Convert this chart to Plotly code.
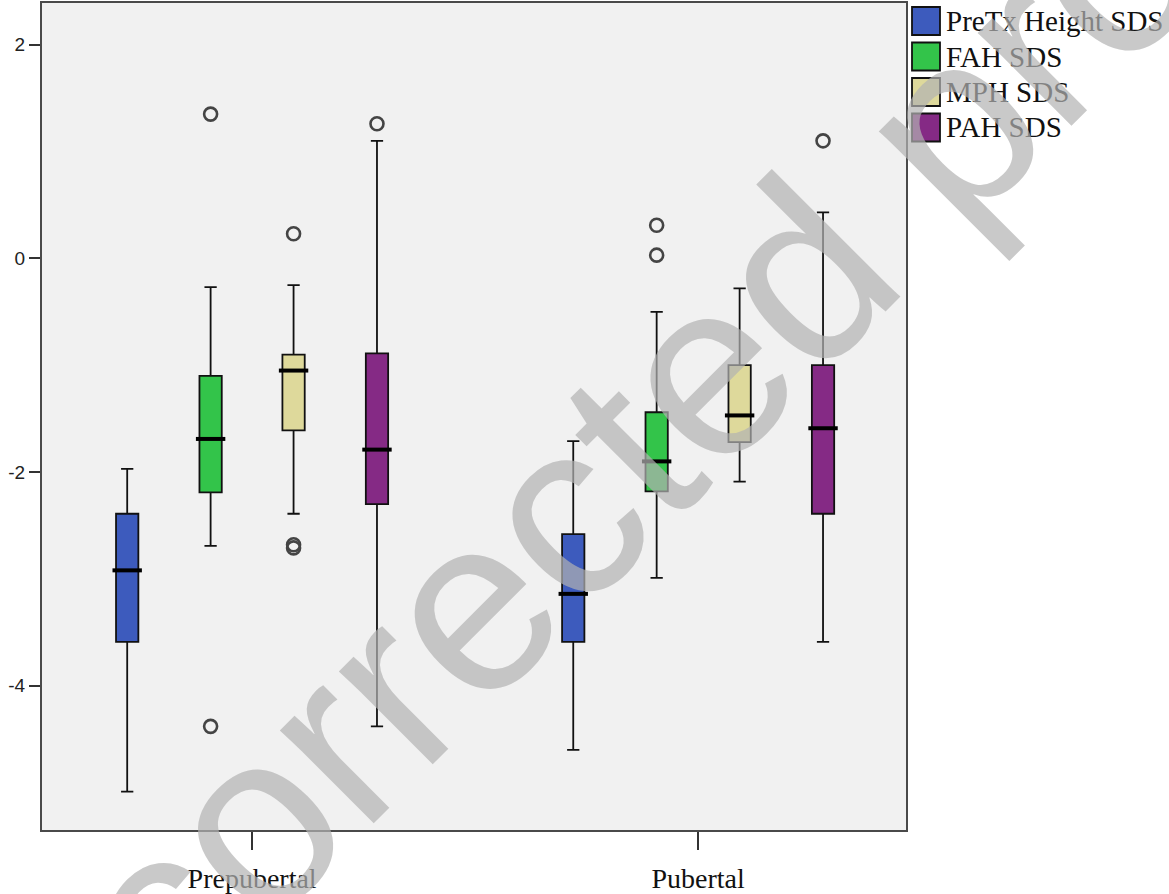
import plotly.graph_objects as go

# ---- data ----
groups = ["Prepubertal", "Pubertal"]
series = ["PreTx Height SDS", "FAH SDS", "MPH SDS", "PAH SDS"]
colors = ["#3d5bbd", "#33c44a", "#ded99b", "#852a85"]

q1 = {
    "PreTx Height SDS": [-3.59, -3.59],
    "FAH SDS": [-2.19, -2.18],
    "MPH SDS": [-1.61, -1.72],
    "PAH SDS": [-2.30, -2.39],
}
median = {
    "PreTx Height SDS": [-2.92, -3.14],
    "FAH SDS": [-1.69, -1.90],
    "MPH SDS": [-1.05, -1.47],
    "PAH SDS": [-1.79, -1.59],
}
q3 = {
    "PreTx Height SDS": [-2.39, -2.58],
    "FAH SDS": [-1.10, -1.44],
    "MPH SDS": [-0.90, -1.00],
    "PAH SDS": [-0.89, -1.00],
}
lower = {
    "PreTx Height SDS": [-4.99, -4.60],
    "FAH SDS": [-2.69, -2.99],
    "MPH SDS": [-2.39, -2.09],
    "PAH SDS": [-4.38, -3.59],
}
upper = {
    "PreTx Height SDS": [-1.97, -1.71],
    "FAH SDS": [-0.27, -0.50],
    "MPH SDS": [-0.25, -0.28],
    "PAH SDS": [1.10, 0.43],
}
outliers = {
    "PreTx Height SDS": [[], []],
    "FAH SDS": [[1.35, -4.38], [0.31, 0.03]],
    "MPH SDS": [[0.23, -2.68, -2.71], []],
    "PAH SDS": [[1.26], [1.10]],
}

y_ticks = [2, 0, -2, -4]
watermark = "corrected proof"

# ---- layout constants ----
W, H = 1169, 894
ML, MR, MT, MB = 42, 263, 3, 64
PW, PH = W - ML - MR, H - MT - MB
offsets = [-0.28, -0.093, 0.093, 0.28]
box_w = 0.05


def px(xp):
    return (xp - ML) / PW


def py(yp):
    return (H - MB - yp) / PH


fig = go.Figure()
for i, s in enumerate(series):
    xs = [g + offsets[i] for g in range(len(groups))]
    fig.add_trace(go.Box(
        x=xs, q1=q1[s], median=median[s], q3=q3[s],
        lowerfence=lower[s], upperfence=upper[s],
        width=box_w, whiskerwidth=0.55,
        fillcolor=colors[i], line=dict(color="#111111", width=1.8),
        boxpoints=False, name=s, showlegend=False,
    ))
    # thick median bars
    fig.add_trace(go.Scatter(
        x=xs, y=median[s], mode="markers", showlegend=False, hoverinfo="skip",
        marker=dict(symbol="line-ew", size=21, line=dict(color="black", width=4)),
    ))
    # outliers
    ox, oy = [], []
    for g in range(len(groups)):
        for v in outliers[s][g]:
            ox.append(g + offsets[i])
            oy.append(v)
    if ox:
        fig.add_trace(go.Scatter(
            x=ox, y=oy, mode="markers", showlegend=False, hoverinfo="skip",
            marker=dict(symbol="circle-open", size=13, color="#444444",
                        line=dict(width=2.6, color="#444444")),
        ))

# manual legend (large square swatches as in the reference)
leg_x0, leg_y0, leg_dy, sw = 912, 21, 35.5, 28
for i, s in enumerate(series):
    cy = leg_y0 + i * leg_dy
    fig.add_shape(type="rect", xref="paper", yref="paper",
                  x0=px(leg_x0), x1=px(leg_x0 + sw),
                  y0=py(cy + sw / 2), y1=py(cy - sw / 2),
                  fillcolor=colors[i], line=dict(color="#111", width=1.8), layer="above")
    fig.add_annotation(text=s, xref="paper", yref="paper",
                       x=px(leg_x0 + sw + 4), y=py(cy), xanchor="left", yanchor="middle",
                       showarrow=False,
                       font=dict(family="Liberation Serif, Times New Roman", size=29, color="#111"))

# watermark
fig.add_annotation(
    text=watermark, xref="paper", yref="paper",
    x=px(708), y=py(366), xanchor="center", yanchor="middle",
    showarrow=False, textangle=-45,
    font=dict(family="Liberation Sans, Arial", size=250, color="rgba(178,178,178,0.7)"),
)

fig.update_layout(
    width=W, height=H,
    margin=dict(l=ML, r=MR, t=MT, b=MB, autoexpand=False),
    paper_bgcolor="white", plot_bgcolor="#f1f1f1",
    showlegend=False,
)
fig.update_xaxes(
    range=[-0.471, 1.466], tickvals=list(range(len(groups))), ticktext=groups,
    showgrid=False, zeroline=False, showline=True, mirror=True,
    linecolor="#4a4a4a", linewidth=2, ticks="outside", ticklen=18, tickwidth=2,
    tickcolor="#333", ticklabelstandoff=4,
    tickfont=dict(family="Liberation Serif, Times New Roman", size=28, color="#111"),
)
fig.update_yaxes(
    range=[-5.35, 2.39], tickvals=y_ticks, ticktext=[str(v) for v in y_ticks],
    showgrid=False, zeroline=False, showline=True, mirror=True,
    linecolor="#4a4a4a", linewidth=2, ticks="outside", ticklen=11, tickwidth=2,
    tickcolor="#333",
    tickfont=dict(family="Liberation Sans, Arial", size=19, color="#222"),
)

fig.write_html("out.html", config={"displayModeBar": False},
               post_script="document.body.style.margin='0px';")
